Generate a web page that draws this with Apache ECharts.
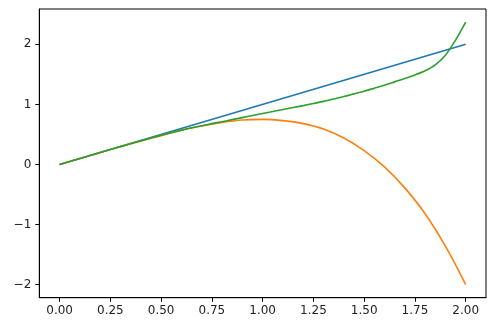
<!DOCTYPE html>
<html>
<head>
<meta charset="utf-8">
<script src="https://cdn.jsdelivr.net/npm/echarts@6/dist/echarts.min.js"></script>
<style>html,body{margin:0;padding:0;background:#fff}#c{width:493px;height:330px}</style>
</head>
<body>
<div id="c"></div>
<script>
const xTicks = [0, 0.25, 0.5, 0.75, 1, 1.25, 1.5, 1.75, 2];
const yTicks = [-2, -1, 0, 1, 2];

const blueX = [0, 2];
const blueY = [0, 2];

const orangeX = [0, 0.1, 0.2, 0.3, 0.4, 0.5, 0.6, 0.7, 0.8, 0.9, 1.0, 1.1, 1.2, 1.3, 1.4, 1.5, 1.6, 1.7, 1.8, 1.9, 2.0];
const orangeY = [0, 0.10, 0.20, 0.30, 0.39, 0.48, 0.57, 0.64, 0.70, 0.74, 0.75, 0.73, 0.68, 0.59, 0.44, 0.23, -0.04, -0.39, -0.82, -1.36, -2.0];

const greenX = [0, 0.05, 0.1, 0.15, 0.2, 0.25, 0.3, 0.35, 0.4, 0.45, 0.5, 0.55, 0.6, 0.65, 0.7, 0.75, 0.8, 0.85, 0.9, 0.95, 1.0, 1.05, 1.1, 1.15, 1.2, 1.25, 1.3, 1.35, 1.4, 1.45, 1.5, 1.55, 1.6, 1.65, 1.7, 1.75, 1.8, 1.85, 1.9, 1.95, 2.0];
const greenY = [0, 0.05, 0.10, 0.15, 0.20, 0.248, 0.297, 0.345, 0.393, 0.44, 0.486, 0.53, 0.572, 0.61, 0.645, 0.68, 0.712, 0.746, 0.78, 0.815, 0.85, 0.882, 0.915, 0.947, 0.98, 1.015, 1.05, 1.09, 1.13, 1.175, 1.22, 1.27, 1.32, 1.375, 1.43, 1.49, 1.56, 1.66, 1.82, 2.07, 2.37];

const zip = (xs, ys) => xs.map((x, i) => [x, ys[i]]);

const chart = echarts.init(document.getElementById('c'));
const font = 'DejaVu Sans';
chart.setOption({
  animation: false,
  grid: { left: 39.3, top: 9, right: 7, bottom: 32.3, show: true, borderColor: '#000', borderWidth: 1, backgroundColor: 'transparent' },
  xAxis: {
    type: 'value', min: -0.1, max: 2.1,
    splitLine: { show: false },
    axisLine: { show: true, onZero: false, lineStyle: { color: '#000', width: 1 } },
    axisTick: { show: true, length: 4, customValues: xTicks, lineStyle: { color: '#000' } },
    axisLabel: { customValues: xTicks, margin: 7, color: '#222', fontSize: 12, fontFamily: font, formatter: v => v.toFixed(2) }
  },
  yAxis: {
    type: 'value', min: -2.2185, max: 2.5885,
    splitLine: { show: false },
    axisLine: { show: true, onZero: false, lineStyle: { color: '#000', width: 1 } },
    axisTick: { show: true, length: 4, customValues: yTicks, lineStyle: { color: '#000' } },
    axisLabel: { customValues: yTicks, margin: 8, color: '#222', fontSize: 12, fontFamily: font, formatter: v => String(v).replace('-', '\u2212') }
  },
  series: [
    { type: 'line', data: zip(blueX, blueY), showSymbol: false, lineStyle: { color: '#1f77b4', width: 1.6 } },
    { type: 'line', data: zip(orangeX, orangeY), smooth: 0.4, showSymbol: false, lineStyle: { color: '#ff7f0e', width: 1.6 } },
    { type: 'line', data: zip(greenX, greenY), smooth: 0.3, showSymbol: false, lineStyle: { color: '#2ca02c', width: 1.6 } }
  ]
});
</script>
</body>
</html>
